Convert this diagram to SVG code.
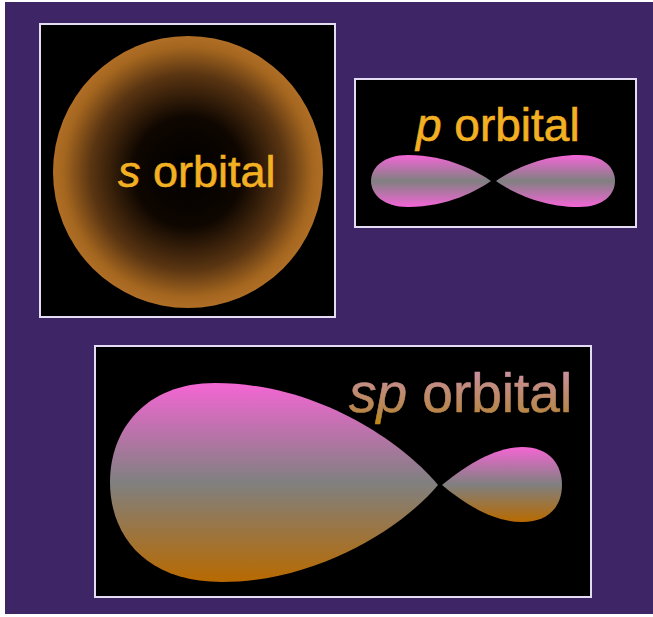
<svg xmlns="http://www.w3.org/2000/svg" width="653" height="617" viewBox="0 0 653 617">
  <defs>
    <style>
      .panel { fill: #000; stroke: #e4dcf2; stroke-width: 2; }
      .label { font-family: "Liberation Sans", Arial, sans-serif; stroke-width: 0.6; }
      .gold { fill: #f2b022; stroke: #f2b022; }
    </style>
    <radialGradient id="sGrad" cx="0.5" cy="0.5" r="0.5">
      <stop offset="0" stop-color="#000"/>
      <stop offset="0.4" stop-color="#0e0600"/>
      <stop offset="0.72" stop-color="#5a3512"/>
      <stop offset="0.92" stop-color="#a4661f"/>
      <stop offset="1" stop-color="#b06e26"/>
    </radialGradient>
    <linearGradient id="pGrad" x1="0" y1="0" x2="0" y2="1">
      <stop offset="0" stop-color="#f466d8"/>
      <stop offset="0.5" stop-color="#808080"/>
      <stop offset="1" stop-color="#f466d8"/>
    </linearGradient>
    <linearGradient id="spGrad" x1="0" y1="0" x2="0" y2="1">
      <stop offset="0" stop-color="#f466d4"/>
      <stop offset="0.5" stop-color="#808080"/>
      <stop offset="1" stop-color="#b86a00"/>
    </linearGradient>
    <linearGradient id="spText" gradientUnits="userSpaceOnUse" x1="0" y1="372" x2="0" y2="424">
      <stop offset="0" stop-color="#c8909c"/>
      <stop offset="0.75" stop-color="#b8864a"/>
      <stop offset="1" stop-color="#c08a10"/>
    </linearGradient>
  </defs>

  <!-- page background -->
  <rect x="0" y="0" width="653" height="617" fill="#ffffff"/>
  <rect x="5" y="2" width="648" height="612" fill="#3e2566"/>

  <!-- s orbital panel -->
  <g id="s-orbital">
    <rect class="panel" x="40" y="24" width="295" height="293"/>
    <ellipse cx="188" cy="172" rx="135" ry="136" fill="url(#sGrad)"/>
    <text class="label gold" x="118" y="187" font-size="45"><tspan font-style="italic">s</tspan> orbital</text>
  </g>

  <!-- p orbital panel -->
  <g id="p-orbital">
    <rect class="panel" x="355" y="79" width="281" height="148"/>
    <path d="M491,181 C478,172 448,155 408,155 C383,155 371,168 371,181 C371,194 383,207 408,207 C448,207 478,190 491,181 Z" fill="url(#pGrad)"/>
    <path d="M496,181 C509,172 539,155 579,155 C604,155 615,168 615,181 C615,194 604,207 579,207 C539,207 509,190 496,181 Z" fill="url(#pGrad)"/>
    <text class="label gold" x="416" y="141" font-size="46"><tspan font-style="italic">p</tspan> orbital</text>
  </g>

  <!-- sp orbital panel -->
  <g id="sp-orbital">
    <rect class="panel" x="95" y="346" width="496" height="251"/>
    <path d="M438,485 C405,445 320,383 215,383 C145,383 110,430 110,482 C110,535 145,582 222,582 C320,582 405,525 438,485 Z" fill="url(#spGrad)"/>
    <path d="M442,485 C460,470 492,447 522,447 C550,447 562,465 562,485 C562,505 550,522 522,522 C490,522 460,500 442,485 Z" fill="url(#spGrad)"/>
    <text class="label" x="349" y="412" font-size="55" fill="url(#spText)" stroke="url(#spText)"><tspan font-style="italic">sp</tspan> orbital</text>
  </g>
</svg>
